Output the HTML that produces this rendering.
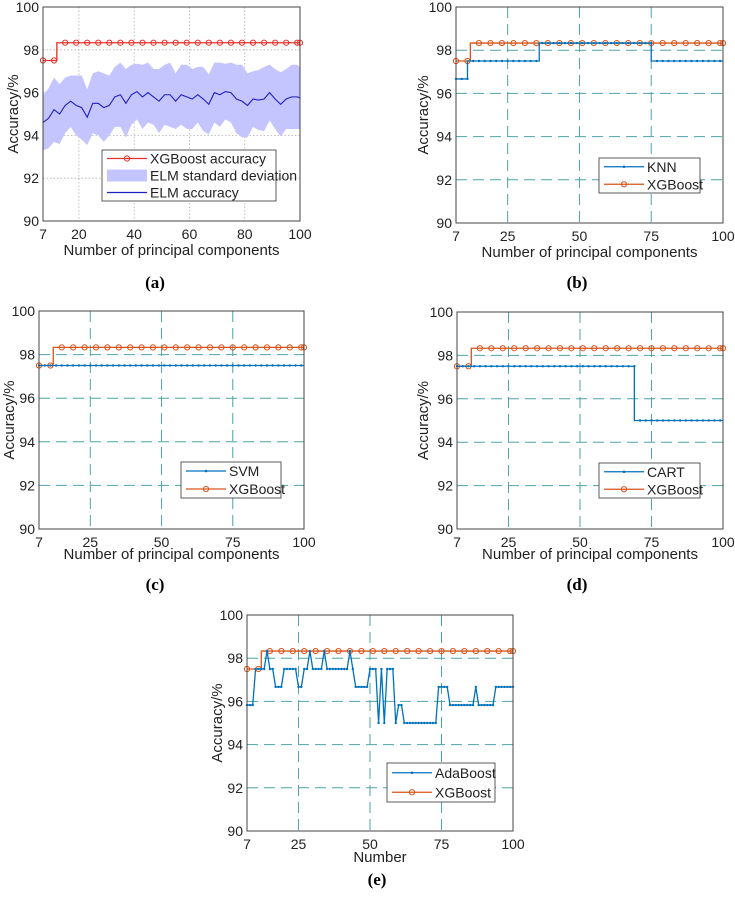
<!DOCTYPE html>
<html><head><meta charset="utf-8"><style>
body{margin:0;background:#fff;width:735px;height:899px;overflow:hidden}
svg{font-family:"Liberation Sans",sans-serif}
</style></head><body>
<svg id="s" width="735" height="899" viewBox="0 0 735 899" xmlns="http://www.w3.org/2000/svg"></svg>
<script>
// ---- data ----
const xTicksA=[7,20,40,60,80,100];
const xTicksB=[7,25,50,75,100];
const yTicks=[90,92,94,96,98,100];
const xgbStepX=[7,13];
const xgbStepY=[97.5,98.33];
const elmX=[7,9,11,13,15,17,19,21,23,25,27,29,31,33,35,37,39,41,43,45,47,49,51,53,55,57,59,61,63,65,67,69,71,73,75,77,79,81,83,85,87,89,91,93,95,97,99,100];
const elmMean=[94.6,94.8,95.2,95.0,95.4,95.6,95.4,95.3,94.85,95.5,95.5,95.3,95.4,95.8,95.9,95.5,95.9,96.05,95.8,96.0,95.8,95.6,95.9,95.9,95.6,95.9,95.8,95.7,95.9,95.7,95.45,96.0,95.9,96.05,96.0,95.7,95.6,95.4,95.7,95.65,95.7,96.0,95.7,95.45,95.7,95.8,95.8,95.75];
const elmStd=[1.3,1.4,1.5,1.4,1.3,1.2,1.4,1.5,1.3,1.4,1.5,1.6,1.4,1.4,1.5,1.6,1.4,1.3,1.5,1.4,1.3,1.5,1.4,1.5,1.3,1.4,1.5,1.4,1.3,1.5,1.4,1.4,1.5,1.3,1.4,1.6,1.7,1.5,1.3,1.4,1.5,1.3,1.4,1.5,1.4,1.5,1.5,1.45];
const knnStepX=[7,12,37,76];
const knnStepY=[96.67,97.5,98.33,97.5];
const svmStepX=[7];
const svmStepY=[97.5];
const cartStepX=[7,70];
const cartStepY=[97.5,95.0];
const adaX=[7,8,9,10,11,12,13,14,15,16,17,18,19,20,21,22,23,24,25,26,27,28,29,30,31,32,33,34,35,36,37,38,39,40,41,42,43,44,45,46,47,48,49,50,51,52,53,54,55,56,57,58,59,60,61,62,63,64,65,66,67,68,69,70,71,72,73,74,75,76,77,78,79,80,81,82,83,84,85,86,87,88,89,90,91,92,93,94,95,96,97,98,99,100];
const adaY=[95.83,95.83,95.83,97.5,97.5,97.5,97.5,98.33,97.5,97.5,96.67,96.67,96.67,97.5,97.5,97.5,97.5,97.5,96.67,96.67,97.5,97.5,98.33,97.5,97.5,97.5,97.5,98.33,97.5,97.5,97.5,97.5,97.5,97.5,97.5,97.5,98.33,97.5,96.67,96.67,96.67,96.67,96.67,97.5,97.5,97.5,95,97.5,95,97.5,97.5,97.5,95,95.83,95.83,95,95,95,95,95,95,95,95,95,95,95,95,96.67,96.67,96.67,96.67,95.83,95.83,95.83,95.83,95.83,95.83,95.83,95.83,95.83,96.67,95.83,95.83,95.83,95.83,95.83,95.83,96.67,96.67,96.67,96.67,96.67,96.67,96.67];

const NS='http://www.w3.org/2000/svg';
const S=document.getElementById('s');
function el(tag,attrs,parent,text){const e=document.createElementNS(NS,tag);for(const k in attrs)e.setAttribute(k,attrs[k]);if(text!==undefined)e.textContent=text;(parent||S).appendChild(e);return e;}
function stepVal(xs,ys,x){let v=ys[0];for(let i=0;i<xs.length;i++)if(x>=xs[i])v=ys[i];return v;}

function panel(o){
  const g=el('g',{});
  
  
  const sx=v=>o.x0+(v-7)/93*(o.x1-o.x0);
  const sy=v=>o.y1-(v-90)/10*(o.y1-o.y0);
  const gs=o.dotted?{stroke:'#b0b0b0','stroke-dasharray':'1.5,2','stroke-width':0.8}:{stroke:'#4fa3a5','stroke-dasharray':'11,6','stroke-width':1};
  o.xt.forEach(t=>{if(t>7&&t<100){const l=el('line',Object.assign({x1:sx(t),x2:sx(t),y1:o.y0,y2:o.y1},gs),g);}});
  yTicks.forEach(t=>{if(t>90&&t<100){const l=el('line',Object.assign({x1:o.x0,x2:o.x1,y1:sy(t),y2:sy(t)},gs),g);}});
  o.draw(g,sx,sy);
  const b=el('rect',{x:o.x0,y:o.y0,width:o.x1-o.x0,height:o.y1-o.y0,fill:'none',stroke:'#444','stroke-width':1},g);
  
  o.xt.forEach(t=>{const tx=el('text',{x:sx(t),y:o.y1+18,'text-anchor':'middle','font-size':14,fill:'#222'},g,t);});
  yTicks.forEach(t=>{const tx=el('text',{x:o.x0-4,y:sy(t)+5,'text-anchor':'end','font-size':14,fill:'#222'},g,t);});
  const xl=el('text',{x:(o.x0+o.x1)/2,y:o.xly,'text-anchor':'middle','font-size':15,fill:'#222'},g,o.xlabel);
  
  const yl=el('text',{x:0,y:0,transform:`translate(${o.ylx},${(o.y0+o.y1)/2}) rotate(-90)`,'text-anchor':'middle','font-size':15,fill:'#222'},g,'Accuracy/%');
  
  const pl=el('text',{x:o.plx,y:o.ply,'text-anchor':'middle','font-size':17,'font-weight':'bold','font-family':'Liberation Serif,serif',fill:'#000'},g,'('+o.id+')');
  
  const L=o.leg;
  const lb=el('rect',{x:L.x,y:L.y,width:L.w,height:L.h,fill:'#fff',stroke:'#333','stroke-width':0.8},g);
  
  L.items.forEach((it,i)=>{
    const yy=L.y+L.h/(L.items.length)*(i+0.5);
    const lg=el('g',{},g);
    if(it.kind==='band'){el('rect',{x:L.x+5,y:yy-6,width:40,height:12,fill:'#c4c4ff'},lg);}
    else{el('line',{x1:L.x+5,x2:L.x+45,y1:yy,y2:yy,stroke:it.c,'stroke-width':1.2},lg);
      if(it.kind==='circle')el('circle',{cx:L.x+25,cy:yy,r:2.6,fill:'none',stroke:it.c,'stroke-width':1},lg);
      if(it.kind==='dot')el('circle',{cx:L.x+25,cy:yy,r:1.3,fill:it.c},lg);}
    el('text',{x:L.x+48,y:yy+5,'font-size':14,fill:'#222'},lg,it.t);
  });
}
function stairsPath(xs,ys,sx,sy,xmax){let d='';for(let i=0;i<xs.length;i++){const xe=i+1<xs.length?xs[i+1]-1:xmax;d+=(i?'L':'M')+sx(xs[i]-(i?1:0))+','+sy(ys[i])+' L'+sx(xe)+','+sy(ys[i])+' ';}return d;}
function xgb(g,sx,sy,col,r){
  const p=el('path',{d:stairsPath(xgbStepX,xgbStepY,sx,sy,100),fill:'none',stroke:col,'stroke-width':1.3},g);
  
  for(let x=7;x<=100;x+=4){const c=el('circle',{cx:sx(x),cy:sy(stepVal(xgbStepX,xgbStepY,x)),r:r,fill:'none',stroke:col,'stroke-width':1},g);}
  const c=el('circle',{cx:sx(100),cy:sy(stepVal(xgbStepX,xgbStepY,100)),r:r,fill:'none',stroke:col,'stroke-width':1},g);
}
function blueStep(g,sx,sy,xs,ys,name){
  const p=el('path',{d:stairsPath(xs,ys,sx,sy,100),fill:'none',stroke:'#0072BD','stroke-width':1.3},g);
  
  for(let x=7;x<=100;x+=2){const c=el('circle',{cx:sx(x),cy:sy(stepVal(xs,ys,x)),r:1.2,fill:'#0072BD'},g);}
}
const OR='#D95319';
panel({id:'a',x0:43,x1:300,y0:7,y1:221,xt:xTicksA,dotted:true,xlabel:'Number of principal components',xly:255,ylx:18,plx:155,ply:288,
 leg:{x:102,y:150,w:174,h:51,items:[{kind:'circle',c:'#e8302a',t:'XGBoost accuracy'},{kind:'band',t:'ELM standard deviation'},{kind:'line',c:'#2020c0',t:'ELM accuracy'}]},
 draw:(g,sx,sy)=>{
  let d='';elmX.forEach((x,i)=>d+=(i?'L':'M')+sx(x)+','+sy(elmMean[i]+elmStd[i]));
  for(let i=elmX.length-1;i>=0;i--)d+='L'+sx(elmX[i])+','+sy(elmMean[i]-elmStd[i]);
  const b=el('path',{d:d+'Z',fill:'#c4c4ff'},g);
  let m='';elmX.forEach((x,i)=>m+=(i?'L':'M')+sx(x)+','+sy(elmMean[i]));
  const l=el('path',{d:m,fill:'none',stroke:'#2020c0','stroke-width':1.1},g);
  xgb(g,sx,sy,'#e8302a',2.6);
 }});
panel({id:'b',x0:456,x1:723,y0:7,y1:223,xt:xTicksB,xlabel:'Number of principal components',xly:257,ylx:428,plx:577,ply:288,
 leg:{x:599,y:158,w:101,h:35,items:[{kind:'dot',c:'#0072BD',t:'KNN'},{kind:'circle',c:OR,t:'XGBoost'}]},
 draw:(g,sx,sy)=>{xgb(g,sx,sy,OR,2.6);blueStep(g,sx,sy,knnStepX,knnStepY,'knn');}});
panel({id:'c',x0:39,x1:304,y0:311,y1:529,xt:xTicksB,xlabel:'Number of principal components',xly:559,ylx:14,plx:155,ply:590,
 leg:{x:181,y:462,w:100,h:36,items:[{kind:'dot',c:'#0072BD',t:'SVM'},{kind:'circle',c:OR,t:'XGBoost'}]},
 draw:(g,sx,sy)=>{xgb(g,sx,sy,OR,2.6);blueStep(g,sx,sy,svmStepX,svmStepY,'svm');}});
panel({id:'d',x0:457,x1:723,y0:312,y1:529,xt:xTicksB,xlabel:'Number of principal components',xly:559,ylx:428,plx:577,ply:590,
 leg:{x:599,y:463,w:101,h:35,items:[{kind:'dot',c:'#0072BD',t:'CART'},{kind:'circle',c:OR,t:'XGBoost'}]},
 draw:(g,sx,sy)=>{xgb(g,sx,sy,OR,2.6);blueStep(g,sx,sy,cartStepX,cartStepY,'cart');}});
panel({id:'e',x0:247,x1:513,y0:615,y1:831,xt:xTicksB,xlabel:'Number',xly:862,ylx:222,plx:377,ply:885,
 leg:{x:387,y:763,w:108,h:39,items:[{kind:'dot',c:'#0072BD',t:'AdaBoost'},{kind:'circle',c:OR,t:'XGBoost'}]},
 draw:(g,sx,sy)=>{xgb(g,sx,sy,OR,2.6);
  let m='';adaX.forEach((x,i)=>m+=(i?'L':'M')+sx(x)+','+sy(adaY[i]));
  const l=el('path',{d:m,fill:'none',stroke:'#0072BD','stroke-width':1.3},g);
  adaX.forEach((x,i)=>{const c=el('circle',{cx:sx(x),cy:sy(adaY[i]),r:1.2,fill:'#0072BD'},g);});
 }});
</script>
</body></html>
